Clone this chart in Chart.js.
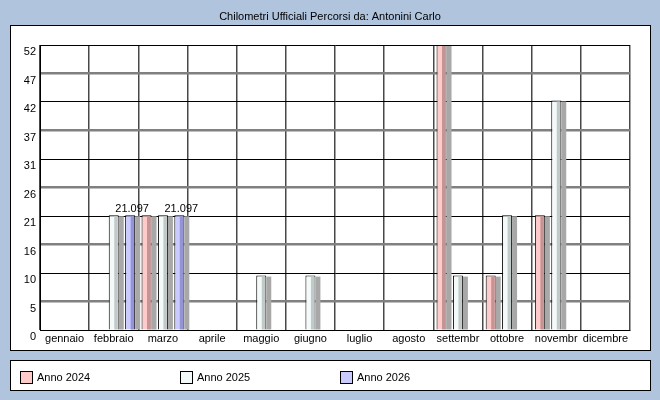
<!DOCTYPE html>
<html>
<head>
<meta charset="utf-8">
<title>Chilometri Ufficiali</title>
<script src="https://cdn.jsdelivr.net/npm/chart.js@4/dist/chart.umd.min.js"></script>
<style>
  html, body { margin: 0; padding: 0; background: #b0c4de; }
  canvas { display: block; }
</style>
</head>
<body>
<canvas id="myChart" width="660" height="400"></canvas>
<script>
// data
const months = ['gennaio', 'febbraio', 'marzo', 'aprile', 'maggio', 'giugno', 'luglio', 'agosto', 'settembr', 'ottobre', 'novembr', 'dicembre'];
const km2024 = [null, null, 21.097, null, null, null, null, null, 52.4, 10, 21.097, null];
const km2025 = [null, 21.097, 21.097, null, 10, 10, null, null, 10, 21.097, 42.195, null];
const km2026 = [null, 21.097, 21.097, null, null, null, null, null, null, null, null, null];
const seriesLabels = ['Anno 2024', 'Anno 2025', 'Anno 2026'];
const yMax = 52.4;
const yTickLabels = ['0', '5', '10', '16', '21', '26', '31', '37', '42', '47', '52'];
const chartTitle = 'Chilometri Ufficiali Percorsi da: Antonini Carlo';

const FONT = '11px "Liberation Sans", Arial, sans-serif';

// light face / dark face of each series
const faces = [
  ['#ffcaca', '#c49494'],
  ['#f4fafa', '#c2c9c9'],
  ['#cacaff', '#9494d4']
];

// background panels, title and legend
const frame = {
  id: 'frame',
  beforeDraw(chart) {
    const c = chart.ctx;
    c.save();
    c.fillStyle = '#b0c4de';
    c.fillRect(0, 0, 660, 400);
    c.fillStyle = '#fff';
    c.fillRect(10, 25, 640, 325);
    c.fillRect(10, 360, 640, 30);
    c.strokeStyle = '#000';
    c.lineWidth = 1;
    c.strokeRect(10.5, 25.5, 640, 325);
    c.strokeRect(10.5, 360.5, 640, 30);
    c.fillStyle = '#000';
    c.font = FONT;
    c.textAlign = 'center';
    c.textBaseline = 'middle';
    c.fillText(chartTitle, 330, 17);
    c.restore();
  },
  afterDraw(chart) {
    const c = chart.ctx;
    c.save();
    c.font = FONT;
    c.textBaseline = 'middle';
    c.lineWidth = 1;
    chart.data.datasets.forEach((ds, i) => {
      const x = 20 + i * 160;
      c.fillStyle = ds.backgroundColor;
      c.fillRect(x, 371, 12, 12);
      c.strokeStyle = '#000';
      c.strokeRect(x + 0.5, 371.5, 12, 12);
      c.fillStyle = '#000';
      c.textAlign = 'left';
      c.fillText(ds.label, x + 17, 378);
    });
    c.restore();
  }
};

// shadow, darker side and value labels on the bars
const bar3d = {
  id: 'bar3d',
  afterDatasetsDraw(chart) {
    const c = chart.ctx;
    c.save();
    chart.data.datasets.forEach((ds, i) => {
      chart.getDatasetMeta(i).data.forEach((bar, j) => {
        if (ds.data[j] == null) return;
        const left = bar.x - bar.width / 2;
        const right = bar.x + bar.width / 2;
        const h = bar.base - bar.y;
        c.fillStyle = '#a8a8a8';
        c.fillRect(right, bar.y + 1, 5, h - 1);
        const mid = left + bar.width * 0.55;
        c.fillStyle = faces[i][1];
        c.fillRect(mid, bar.y + 1, right - 1 - mid, h - 1);
        if (i === 2) {
          c.fillStyle = '#000';
          c.font = FONT;
          c.textAlign = 'center';
          c.textBaseline = 'bottom';
          c.fillText(String(ds.data[j]), bar.x + 2, bar.y - 1);
        }
      });
    });
    c.restore();
  }
};

const ctx = document.getElementById('myChart');
new Chart(ctx, {
  type: 'bar',
  data: {
    labels: months,
    datasets: [km2024, km2025, km2026].map((d, i) => ({
      label: seriesLabels[i],
      data: d,
      backgroundColor: faces[i][0],
      borderColor: '#000',
      borderWidth: 1,
      categoryPercentage: 1,
      barPercentage: 0.61
    }))
  },
  options: {
    responsive: false,
    devicePixelRatio: 1,
    animation: false,
    layout: { padding: { left: 0, top: 45, right: 30, bottom: 50 } },
    plugins: {
      legend: { display: false },
      title: { display: false },
      tooltip: { enabled: false }
    },
    scales: {
      x: {
        grid: { offset: true, drawTicks: false, color: '#484848', lineWidth: 1.5 },
        border: { color: '#000', width: 1 },
        ticks: {
          autoSkip: false, maxRotation: 0, padding: 2, color: '#000',
          font: { family: '"Liberation Sans", Arial, sans-serif', size: 11 }
        },
        afterFit(scale) { scale.height = 20; }
      },
      y: {
        min: 0,
        max: yMax,
        grid: {
          drawTicks: false,
          color: (c) => c.index % 2 ? '#808080' : '#000',
          lineWidth: (c) => c.index % 2 ? 2.5 : 1
        },
        border: { color: '#000', width: 1 },
        ticks: {
          padding: 4, labelOffset: 7, color: '#000',
          font: { family: '"Liberation Sans", Arial, sans-serif', size: 11 },
          callback: (v, i) => yTickLabels[i]
        },
        afterBuildTicks(scale) {
          scale.ticks = yTickLabels.map((t, i) => ({ value: yMax * i / (yTickLabels.length - 1) }));
        },
        afterFit(scale) { scale.width = 40; }
      }
    }
  },
  plugins: [frame, bar3d]
});
</script>
</body>
</html>
